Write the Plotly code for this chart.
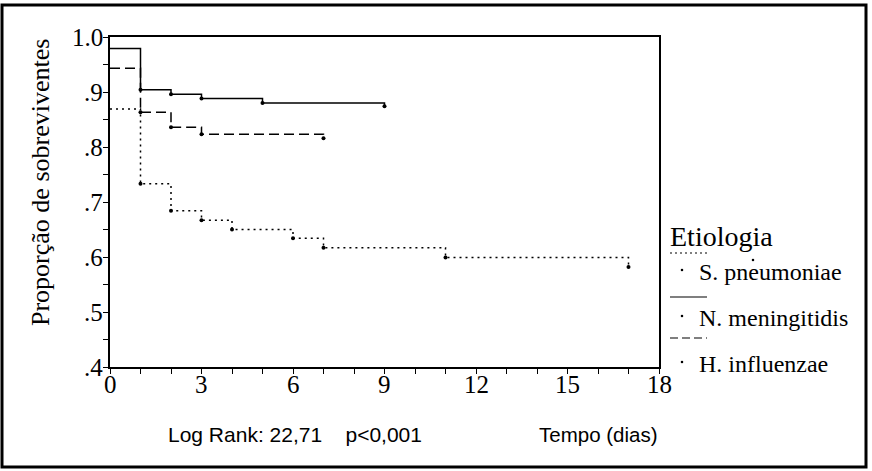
import plotly.graph_objects as go

# Kaplan-Meier survival by etiology
t_pneumo = [0, 1, 2, 3, 4, 6, 7, 11, 17]
s_pneumo = [0.869, 0.733, 0.684, 0.667, 0.650, 0.634, 0.617, 0.599, 0.582]

t_mening = [0, 1, 2, 3, 5, 9]
s_mening = [0.979, 0.904, 0.896, 0.888, 0.880, 0.874]

t_influ = [0, 1, 2, 3, 7]
s_influ = [0.943, 0.863, 0.836, 0.823, 0.816]

x_ticks = [0, 3, 6, 9, 12, 15, 18]
x_ticktext = ['0', '3', '6', '9', '12', '15', '18']
y_ticks = [0.4, 0.5, 0.6, 0.7, 0.8, 0.9, 1.0]
y_ticktext = ['.4', '.5', '.6', '.7', '.8', '.9', '1.0']

legend_title = 'Etiologia'
names = ['S. pneumoniae', 'N. meningitidis', 'H. influenzae']

W, H = 872, 471
L, R, T, B = 110, 659, 37, 367  # plot area in pixels


def px(x):
    return (x - L) / (R - L)


def py(y):
    return (B - y) / (B - T)


serif = 'Liberation Serif, Times New Roman, serif'
sans = 'Liberation Sans, Arial, sans-serif'

fig = go.Figure()

series = [
    (t_pneumo, s_pneumo, '2px,4px'),
    (t_mening, s_mening, 'solid'),
    (t_influ, s_influ, '10px,5px'),
]
for (t, s, dash), name in zip(series, names):
    fig.add_trace(go.Scatter(x=t, y=s, mode='lines', line=dict(color='black', width=1.5, dash=dash, shape='hv'),
                             name=name, showlegend=False))
    # censor marks at each step
    fig.add_trace(go.Scatter(x=t[1:], y=s[1:], mode='markers', marker=dict(color='black', size=4, symbol='circle'),
                             showlegend=False, hoverinfo='skip'))

fig.update_xaxes(range=[0, 18], tickvals=x_ticks, showticklabels=False, ticks='outside', ticklen=5, tickcolor='black',
                 showline=True, linecolor='black', linewidth=1.5, mirror=True, showgrid=False, zeroline=False,
                 minor=dict(dtick=1, tick0=0, ticks='outside', ticklen=5, tickcolor='black', showgrid=False))
fig.update_yaxes(range=[0.4, 1.0], tickvals=y_ticks, showticklabels=False, ticks='outside', ticklen=5, tickcolor='black',
                 showline=True, linecolor='black', linewidth=1.5, mirror=True, showgrid=False, zeroline=False,
                 minor=dict(dtick=0.05, tick0=0.4, ticks='outside', ticklen=5, tickcolor='black', showgrid=False))

ann = []
# tick labels
for v, txt in zip(x_ticks, x_ticktext):
    ann.append(dict(xref='x', x=v, yref='paper', y=py(384), text=txt, xanchor='center', yanchor='middle',
                    font=dict(family=serif, size=25, color='black')))
for v, txt in zip(y_ticks, y_ticktext):
    ann.append(dict(xref='paper', x=px(105), yref='y', y=v, text=txt, xanchor='right', yanchor='middle',
                    font=dict(family=serif, size=25, color='black')))

texts = [
    (40, 183, 'Proporção de sobreviventes', 'center', serif, 26, -90),
    (295, 434, 'Log Rank: 22,71&nbsp;&nbsp;&nbsp;&nbsp;p<0,001', 'center', sans, 21, 0),
    (598, 434, 'Tempo (dias)', 'center', sans, 20.5, 0),
    (668, 236, legend_title, 'left', serif, 28, 0),
]
for name, yy in zip(names, [272, 318, 364]):
    texts.append((697, yy, name, 'left', serif, 24, 0))
for x, y, txt, xa, fam, size, ang in texts:
    ann.append(dict(xref='paper', yref='paper', x=px(x), y=py(y), text=txt, xanchor=xa, yanchor='middle',
                    textangle=ang, font=dict(family=fam, size=size, color='black')))
for a in ann:
    a['showarrow'] = False

shapes = [
    dict(type='rect', xref='paper', yref='paper', x0=px(2), x1=px(866), y0=py(467), y1=py(5),
         line=dict(color='black', width=3)),
]
# legend line samples
for yy, dash in zip([253, 297, 338], ['2px,3px', 'solid', '8px,4px']):
    shapes.append(dict(type='line', xref='paper', yref='paper', x0=px(670), x1=px(707), y0=py(yy), y1=py(yy),
                       line=dict(color='black', width=1.2, dash=dash)))
# legend dots
for cx, cy in [(753, 260), (682, 270), (682, 316), (682, 362)]:
    shapes.append(dict(type='circle', xref='paper', yref='paper', x0=px(cx - 1.3), x1=px(cx + 1.3),
                       y0=py(cy + 1.3), y1=py(cy - 1.3), fillcolor='black', line=dict(width=0)))

fig.update_layout(width=W, height=H, margin=dict(l=L, r=W - R, t=T, b=H - B),
                  plot_bgcolor='white', paper_bgcolor='white', showlegend=False,
                  annotations=ann, shapes=shapes)

fig.write_html('out.html', config={'displayModeBar': False},
               post_script="document.body.style.margin='0px';")
